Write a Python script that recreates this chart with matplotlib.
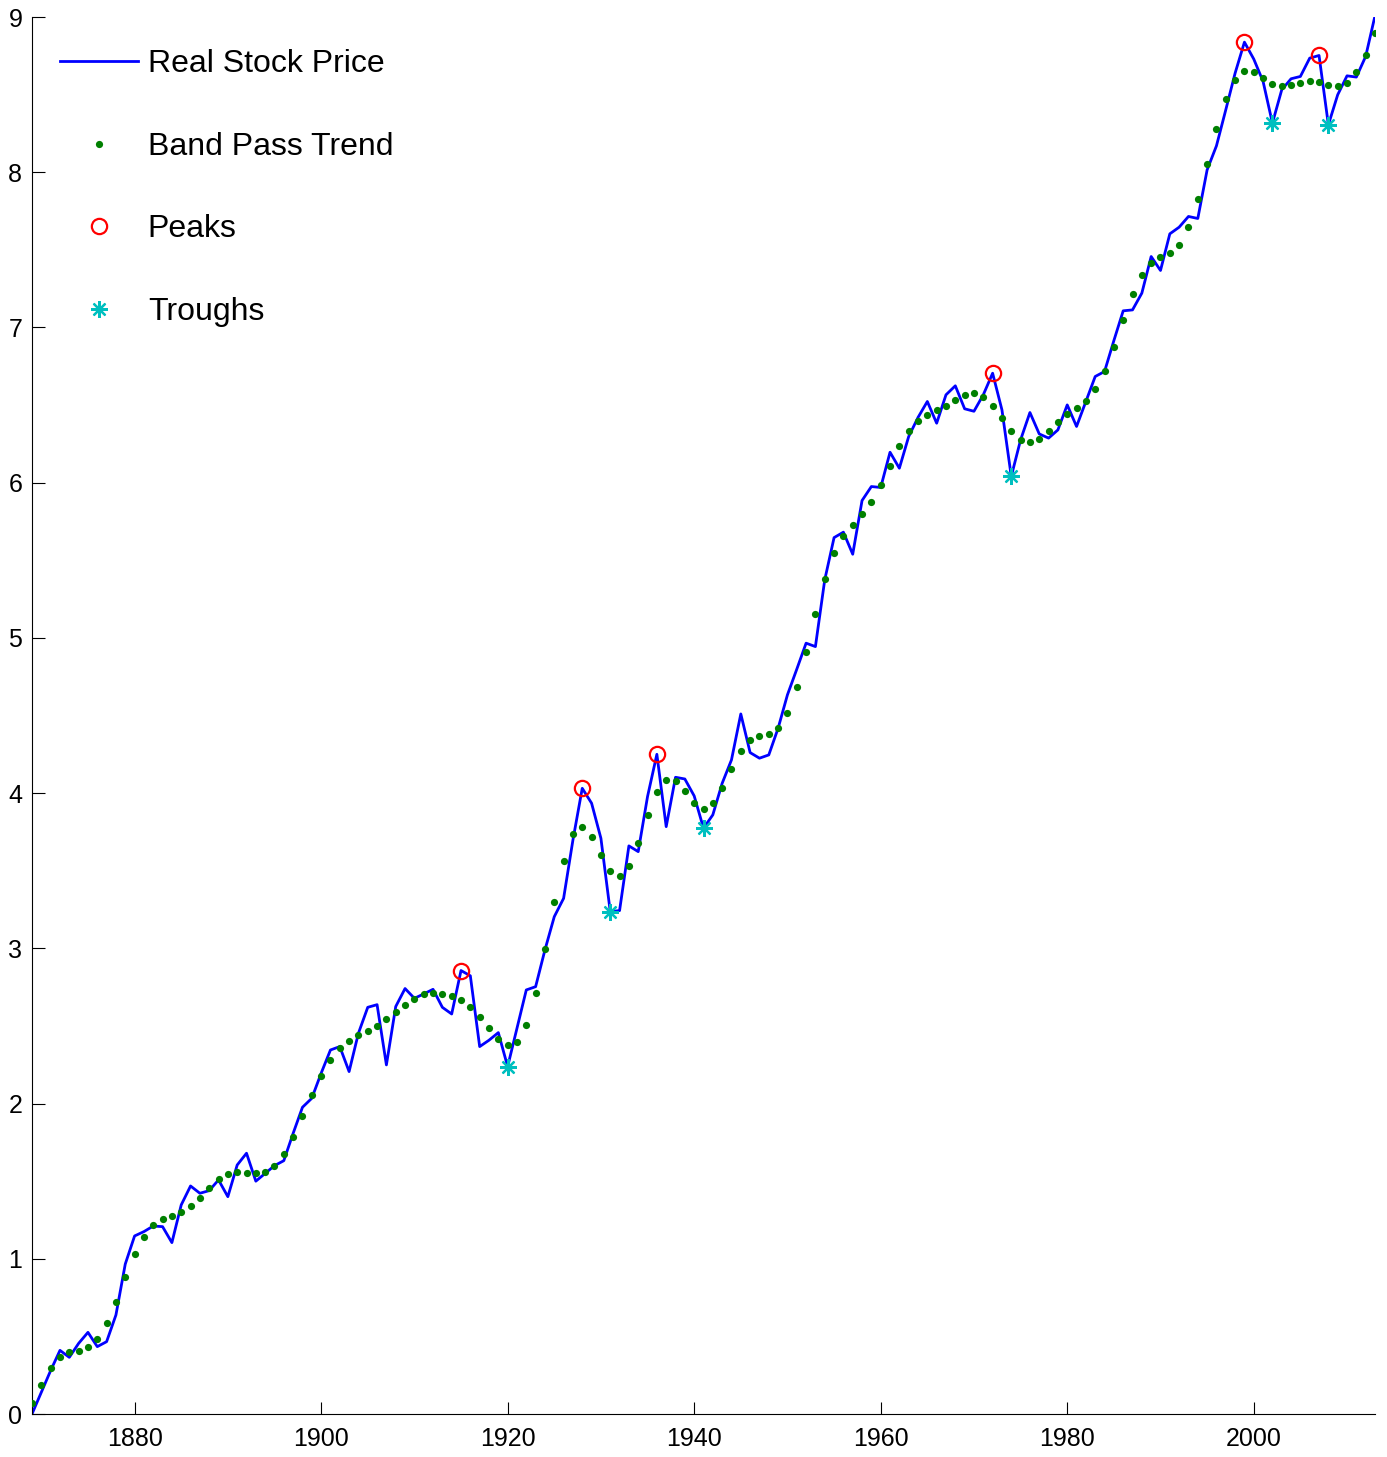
import numpy as np
import matplotlib
matplotlib.use("Agg")
import matplotlib.pyplot as plt

years = list(range(1869, 2014))

real_price = [
    0.00, 0.14, 0.28, 0.41, 0.365, 0.455, 0.526, 0.434, 0.466, 0.638,   # 1869-1878
    0.966, 1.147, 1.175, 1.211, 1.207, 1.104, 1.347, 1.469, 1.422, 1.439,  # 1879-1888
    1.508, 1.40, 1.604, 1.68, 1.50, 1.55, 1.60, 1.632, 1.808, 1.976,  # 1889-1898
    2.034, 2.195, 2.345, 2.367, 2.206, 2.453, 2.62, 2.637, 2.249, 2.625,  # 1899-1908
    2.741, 2.678, 2.706, 2.736, 2.62, 2.577, 2.857, 2.823, 2.367, 2.408,  # 1909-1918
    2.457, 2.238, 2.485, 2.732, 2.753, 2.99, 3.204, 3.322, 3.698, 4.031,  # 1919-1928
    3.935, 3.709, 3.237, 3.243, 3.66, 3.623, 3.978, 4.25, 3.784, 4.102,  # 1929-1938
    4.091, 3.982, 3.774, 3.86, 4.063, 4.214, 4.51, 4.261, 4.225, 4.246,  # 1939-1948
    4.418, 4.633, 4.798, 4.966, 4.944, 5.374, 5.646, 5.681, 5.539, 5.885,  # 1949-1958
    5.975, 5.969, 6.196, 6.093, 6.297, 6.42, 6.523, 6.383, 6.566, 6.624,  # 1959-1968
    6.476, 6.46, 6.566, 6.705, 6.469, 6.04, 6.276, 6.452, 6.314, 6.287,  # 1969-1978
    6.34, 6.501, 6.362, 6.523, 6.684, 6.716, 6.915, 7.107, 7.113, 7.221,  # 1979-1988
    7.457, 7.367, 7.603, 7.646, 7.715, 7.702, 8.015, 8.17, 8.402, 8.638,  # 1989-1998
    8.838, 8.729, 8.585, 8.316, 8.531, 8.602, 8.617, 8.735, 8.752, 8.305,  # 1999-2008
    8.499, 8.621, 8.613, 8.746, 9.008,  # 2009-2013
]

band_pass_trend = [
    0.069, 0.19, 0.296, 0.365, 0.397, 0.408, 0.43, 0.483, 0.584, 0.724,  # 1869-1878
    0.88, 1.029, 1.143, 1.216, 1.254, 1.273, 1.30, 1.338, 1.394, 1.456,  # 1879-1888
    1.512, 1.546, 1.559, 1.555, 1.55, 1.559, 1.598, 1.675, 1.787, 1.92,  # 1889-1898
    2.058, 2.18, 2.283, 2.358, 2.405, 2.44, 2.468, 2.498, 2.543, 2.59,  # 1899-1908
    2.637, 2.676, 2.704, 2.71, 2.708, 2.692, 2.664, 2.62, 2.56, 2.489,  # 1909-1918
    2.416, 2.378, 2.397, 2.509, 2.715, 2.996, 3.301, 3.565, 3.735, 3.78,  # 1919-1928
    3.72, 3.604, 3.499, 3.466, 3.531, 3.677, 3.857, 4.01, 4.087, 4.079,  # 1929-1938
    4.012, 3.935, 3.898, 3.935, 4.031, 4.158, 4.272, 4.343, 4.371, 4.384,  # 1939-1948
    4.418, 4.517, 4.684, 4.912, 5.157, 5.378, 5.55, 5.659, 5.73, 5.795,  # 1949-1958
    5.876, 5.982, 6.11, 6.233, 6.332, 6.40, 6.437, 6.467, 6.495, 6.531,  # 1959-1968
    6.564, 6.576, 6.555, 6.497, 6.415, 6.334, 6.276, 6.259, 6.282, 6.334,  # 1969-1978
    6.39, 6.441, 6.482, 6.529, 6.604, 6.718, 6.877, 7.049, 7.214, 7.339,  # 1979-1988
    7.414, 7.453, 7.478, 7.532, 7.648, 7.826, 8.05, 8.277, 8.471, 8.597,  # 1989-1998
    8.651, 8.643, 8.606, 8.57, 8.557, 8.561, 8.578, 8.587, 8.58, 8.563,  # 1999-2008
    8.554, 8.578, 8.645, 8.752, 8.896,  # 2009-2013
]

peak_years = [1915, 1928, 1936, 1972, 1999, 2007]
trough_years = [1920, 1931, 1941, 1974, 2002, 2008]

x_ticks = [1880, 1900, 1920, 1940, 1960, 1980, 2000]
y_ticks = [0, 1, 2, 3, 4, 5, 6, 7, 8, 9]

plt.rcParams['font.family'] = ['Liberation Sans', 'DejaVu Sans']

W, H = 1387, 1457
fig = plt.figure(figsize=(W / 100, H / 100), dpi=100)
ax = fig.add_axes([32 / W, 1 - 1414 / H, (1375 - 32) / W, (1414 - 17) / H])

price_map = dict(zip(years, real_price))
peak_vals = [price_map[y] for y in peak_years]
trough_vals = [price_map[y] for y in trough_years]

ax.plot(years, real_price, color='#0000FF', lw=2.0, label='Real Stock Price', zorder=2)
ax.plot(years, band_pass_trend, linestyle='none', marker='o', markersize=5.2,
        markerfacecolor='#008000', markeredgecolor='#008000', markeredgewidth=0,
        label='Band Pass Trend', zorder=3)
ax.plot(peak_years, peak_vals, linestyle='none', marker='o', markersize=11,
        markerfacecolor='none', markeredgecolor='#FF0000', markeredgewidth=1.6,
        label='Peaks', zorder=4)
ax.plot(trough_years, trough_vals, linestyle='none', marker=(8, 2, 0), markersize=12,
        markeredgecolor='#00BFBF', markerfacecolor='#00BFBF', markeredgewidth=1.6,
        label='Troughs', zorder=4)

ax.set_xlim(1869, 2013)
ax.set_ylim(0, 9)
ax.set_xticks(x_ticks)
ax.set_yticks(y_ticks)
ax.tick_params(direction='in', length=9, width=0.8, labelsize=18)
ax.tick_params(axis='x', pad=9)
ax.tick_params(axis='y', pad=7)
for s in ['top', 'right']:
    ax.spines[s].set_visible(False)
for s in ['left', 'bottom']:
    ax.spines[s].set_linewidth(0.8)

leg = ax.legend(loc='upper left', bbox_to_anchor=(60 / W, 1 - 49 / H),
                bbox_transform=fig.transFigure, frameon=False, fontsize=23,
                borderpad=0, borderaxespad=0, handlelength=2.45, handletextpad=0.3,
                labelspacing=1.65, markerscale=1.0)

fig.savefig('out.png', dpi=100, facecolor='white')
